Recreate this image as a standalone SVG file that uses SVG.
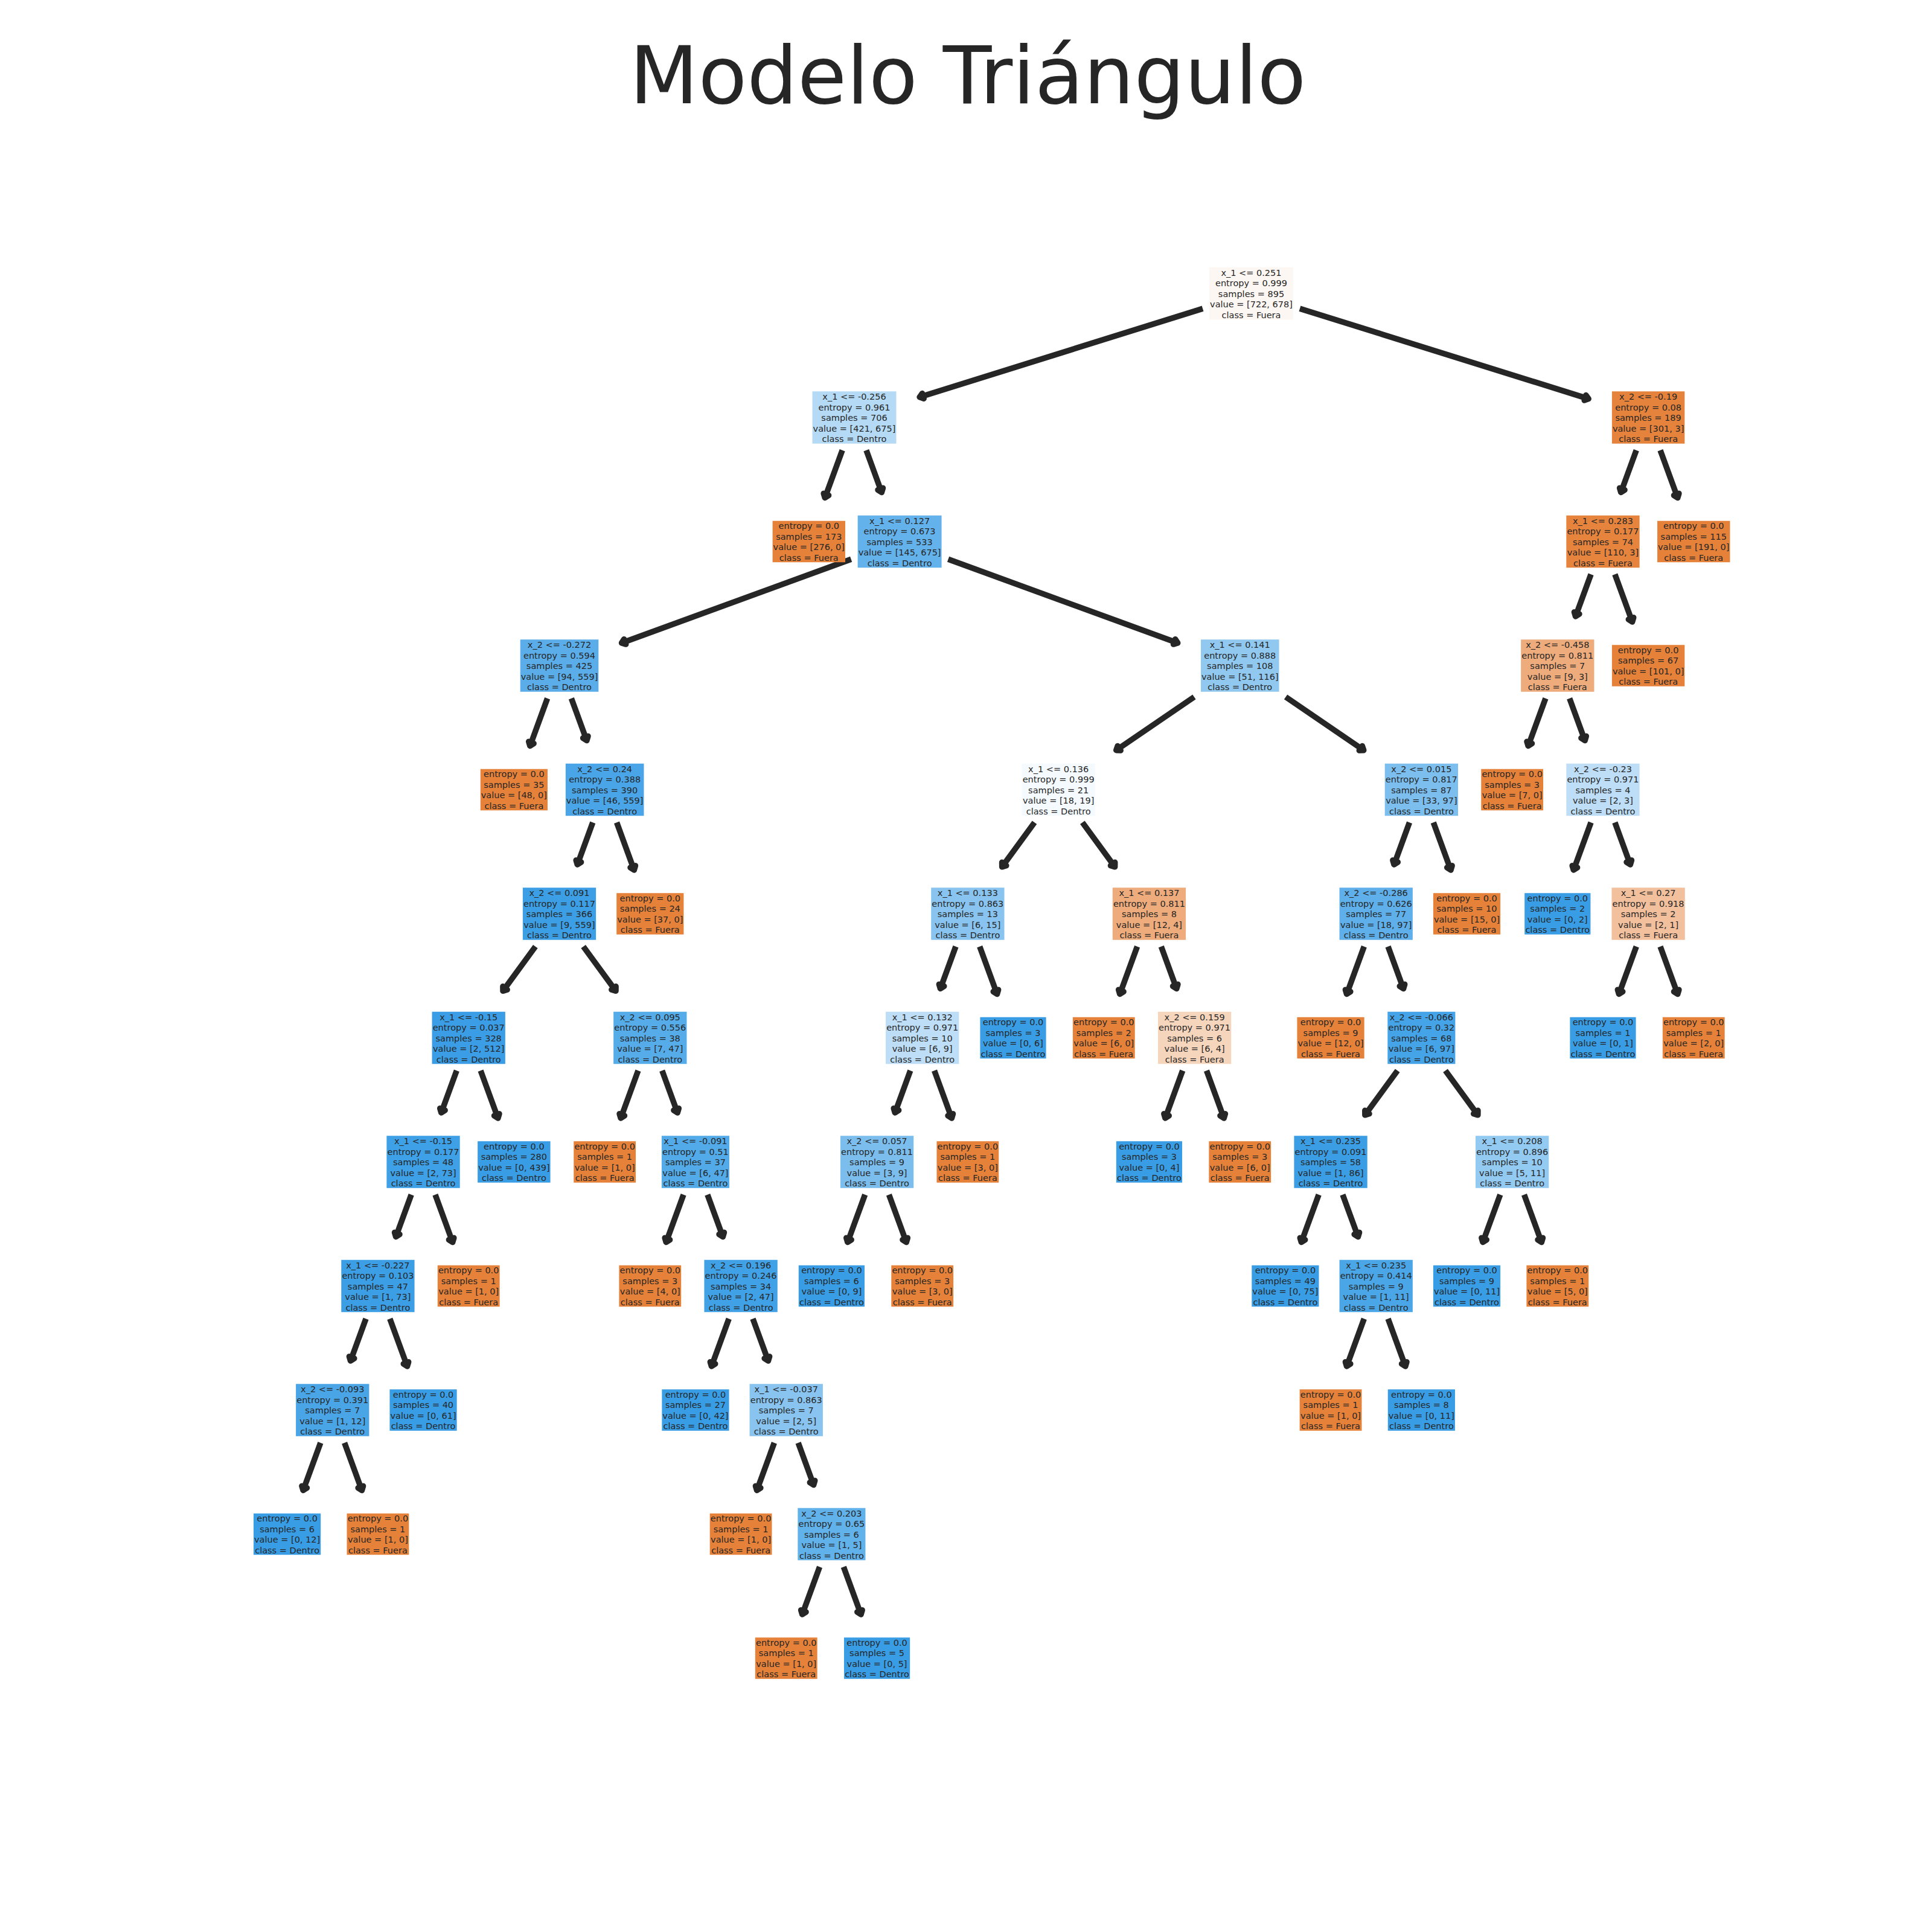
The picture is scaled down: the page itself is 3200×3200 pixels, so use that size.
<svg xmlns="http://www.w3.org/2000/svg" width="3200" height="3200" viewBox="0 0 3200 3200">
<defs>
<style>
.t{font-family:"DejaVu Sans","Noto Sans",Verdana,sans-serif;font-size:14.5px;fill:#262626;text-anchor:middle}
.title{font-family:"DejaVu Sans","Noto Sans",Verdana,sans-serif;font-size:132px;fill:#262626;text-anchor:middle}
.e{stroke:#262626;stroke-width:9.5;stroke-linecap:butt;fill:none;marker-end:url(#ah)}
.o{fill:#e58139}
.b{fill:#399de5}
</style>
<marker id="ah" markerUnits="userSpaceOnUse" orient="auto" refX="0" refY="0" markerWidth="40" markerHeight="40" viewBox="-20 -20 40 40" overflow="visible">
<path d="M-6,-4.5 L0,0 L-6,4.5" fill="none" stroke="#262626" stroke-width="9.5" stroke-linecap="round" stroke-linejoin="round"/>
</marker>
</defs>
<rect x="0" y="0" width="3200" height="3200" fill="#ffffff"/>
<text class="title" x="1603" y="171">Modelo Triángulo</text>
<g id="edges">
<line class="e" x1="1992.05" y1="511.14" x2="1523.13" y2="657.71"/>
<line class="e" x1="2152.95" y1="511.14" x2="2631.22" y2="660.6"/>
<line class="e" x1="1395.16" y1="745.75" x2="1366.31" y2="824.51"/>
<line class="e" x1="1434.84" y1="745.75" x2="1460.3" y2="815.51"/>
<line class="e" x1="1409.65" y1="926.33" x2="1029.55" y2="1064.93"/>
<line class="e" x1="1570.55" y1="926.33" x2="1950.7" y2="1064.93"/>
<line class="e" x1="906.66" y1="1156.75" x2="877.86" y2="1235.51"/>
<line class="e" x1="946.34" y1="1156.75" x2="971.85" y2="1226.51"/>
<line class="e" x1="981.81" y1="1362.25" x2="956.3" y2="1432.01"/>
<line class="e" x1="1021.49" y1="1362.25" x2="1050.29" y2="1441.01"/>
<line class="e" x1="886.82" y1="1567.75" x2="833.0" y2="1641.34"/>
<line class="e" x1="966.18" y1="1567.75" x2="1020.0" y2="1641.34"/>
<line class="e" x1="756.36" y1="1773.25" x2="730.85" y2="1843.01"/>
<line class="e" x1="796.04" y1="1773.25" x2="824.84" y2="1852.01"/>
<line class="e" x1="681.21" y1="1978.75" x2="655.7" y2="2048.51"/>
<line class="e" x1="720.89" y1="1978.75" x2="749.69" y2="2057.51"/>
<line class="e" x1="606.06" y1="2184.25" x2="580.55" y2="2254.01"/>
<line class="e" x1="645.74" y1="2184.25" x2="674.54" y2="2263.01"/>
<line class="e" x1="530.91" y1="2389.75" x2="502.11" y2="2468.51"/>
<line class="e" x1="570.59" y1="2389.75" x2="599.39" y2="2468.51"/>
<line class="e" x1="1056.96" y1="1773.25" x2="1028.16" y2="1852.01"/>
<line class="e" x1="1096.64" y1="1773.25" x2="1122.15" y2="1843.01"/>
<line class="e" x1="1132.11" y1="1978.75" x2="1103.31" y2="2057.51"/>
<line class="e" x1="1171.79" y1="1978.75" x2="1197.3" y2="2048.51"/>
<line class="e" x1="1207.26" y1="2184.25" x2="1178.46" y2="2263.01"/>
<line class="e" x1="1246.94" y1="2184.25" x2="1272.45" y2="2254.01"/>
<line class="e" x1="1282.41" y1="2389.75" x2="1253.61" y2="2468.51"/>
<line class="e" x1="1322.09" y1="2389.75" x2="1347.6" y2="2459.51"/>
<line class="e" x1="1357.56" y1="2595.25" x2="1328.76" y2="2674.01"/>
<line class="e" x1="1397.24" y1="2595.25" x2="1426.04" y2="2674.01"/>
<line class="e" x1="1977.95" y1="1154.32" x2="1848.74" y2="1242.65"/>
<line class="e" x1="2129.55" y1="1154.32" x2="2258.76" y2="1242.65"/>
<line class="e" x1="1713.47" y1="1362.25" x2="1659.65" y2="1435.84"/>
<line class="e" x1="1792.83" y1="1362.25" x2="1846.65" y2="1435.84"/>
<line class="e" x1="1583.01" y1="1567.75" x2="1557.5" y2="1637.51"/>
<line class="e" x1="1622.69" y1="1567.75" x2="1651.49" y2="1646.51"/>
<line class="e" x1="1507.86" y1="1773.25" x2="1482.35" y2="1843.01"/>
<line class="e" x1="1547.54" y1="1773.25" x2="1576.34" y2="1852.01"/>
<line class="e" x1="1432.71" y1="1978.75" x2="1403.91" y2="2057.51"/>
<line class="e" x1="1472.39" y1="1978.75" x2="1501.19" y2="2057.51"/>
<line class="e" x1="1883.61" y1="1567.75" x2="1854.81" y2="1646.51"/>
<line class="e" x1="1923.29" y1="1567.75" x2="1948.8" y2="1637.51"/>
<line class="e" x1="1958.76" y1="1773.25" x2="1929.96" y2="1852.01"/>
<line class="e" x1="1998.44" y1="1773.25" x2="2027.24" y2="1852.01"/>
<line class="e" x1="2334.51" y1="1362.25" x2="2309.0" y2="1432.01"/>
<line class="e" x1="2374.19" y1="1362.25" x2="2402.99" y2="1441.01"/>
<line class="e" x1="2259.36" y1="1567.75" x2="2230.56" y2="1646.51"/>
<line class="e" x1="2299.04" y1="1567.75" x2="2324.55" y2="1637.51"/>
<line class="e" x1="2314.67" y1="1773.25" x2="2260.85" y2="1846.84"/>
<line class="e" x1="2394.03" y1="1773.25" x2="2447.85" y2="1846.84"/>
<line class="e" x1="2184.21" y1="1978.75" x2="2155.41" y2="2057.51"/>
<line class="e" x1="2223.89" y1="1978.75" x2="2249.4" y2="2048.51"/>
<line class="e" x1="2259.36" y1="2184.25" x2="2230.56" y2="2263.01"/>
<line class="e" x1="2299.04" y1="2184.25" x2="2327.84" y2="2263.01"/>
<line class="e" x1="2484.81" y1="1978.75" x2="2456.01" y2="2057.51"/>
<line class="e" x1="2524.49" y1="1978.75" x2="2553.29" y2="2057.51"/>
<line class="e" x1="2710.26" y1="745.75" x2="2684.75" y2="815.51"/>
<line class="e" x1="2749.94" y1="745.75" x2="2778.74" y2="824.51"/>
<line class="e" x1="2635.11" y1="951.25" x2="2609.6" y2="1021.01"/>
<line class="e" x1="2674.79" y1="951.25" x2="2703.59" y2="1030.01"/>
<line class="e" x1="2559.96" y1="1156.75" x2="2531.16" y2="1235.51"/>
<line class="e" x1="2599.64" y1="1156.75" x2="2625.15" y2="1226.51"/>
<line class="e" x1="2635.11" y1="1362.25" x2="2606.31" y2="1441.01"/>
<line class="e" x1="2674.79" y1="1362.25" x2="2700.3" y2="1432.01"/>
<line class="e" x1="2710.26" y1="1567.75" x2="2681.46" y2="1646.51"/>
<line class="e" x1="2749.94" y1="1567.75" x2="2778.74" y2="1646.51"/>
</g>
<g id="n0"><rect x="2003.05" y="442.75" width="138.9" height="86.5" fill="#fdf7f3"/><text class="t" x="2072.5" y="456.5"><tspan x="2072.5">x_1 &lt;= 0.251</tspan><tspan x="2072.5" dy="17.5">entropy = 0.999</tspan><tspan x="2072.5" dy="17.5">samples = 895</tspan><tspan x="2072.5" dy="17.5">value = [722, 678]</tspan><tspan x="2072.5" dy="17.5">class = Fuera</tspan></text></g>
<g id="n1"><rect x="1345.55" y="648.25" width="138.9" height="86.5" fill="#b4daf5"/><text class="t" x="1415" y="662"><tspan x="1415">x_1 &lt;= -0.256</tspan><tspan x="1415" dy="17.5">entropy = 0.961</tspan><tspan x="1415" dy="17.5">samples = 706</tspan><tspan x="1415" dy="17.5">value = [421, 675]</tspan><tspan x="1415" dy="17.5">class = Dentro</tspan></text></g>
<g id="n2"><rect class="o" x="1279.6" y="862.75" width="120.4" height="68.5"/><text class="t" x="1339.8" y="876.25"><tspan x="1339.8">entropy = 0.0</tspan><tspan x="1339.8" dy="17.5">samples = 173</tspan><tspan x="1339.8" dy="17.5">value = [276, 0]</tspan><tspan x="1339.8" dy="17.5">class = Fuera</tspan></text></g>
<g id="n3"><rect x="1420.65" y="853.75" width="138.9" height="86.5" fill="#64b2eb"/><text class="t" x="1490.1" y="867.5"><tspan x="1490.1">x_1 &lt;= 0.127</tspan><tspan x="1490.1" dy="17.5">entropy = 0.673</tspan><tspan x="1490.1" dy="17.5">samples = 533</tspan><tspan x="1490.1" dy="17.5">value = [145, 675]</tspan><tspan x="1490.1" dy="17.5">class = Dentro</tspan></text></g>
<g id="n4"><rect x="861.7" y="1059.25" width="129.6" height="86.5" fill="#5aade9"/><text class="t" x="926.5" y="1073"><tspan x="926.5">x_2 &lt;= -0.272</tspan><tspan x="926.5" dy="17.5">entropy = 0.594</tspan><tspan x="926.5" dy="17.5">samples = 425</tspan><tspan x="926.5" dy="17.5">value = [94, 559]</tspan><tspan x="926.5" dy="17.5">class = Dentro</tspan></text></g>
<g id="n5"><rect class="o" x="795.75" y="1273.75" width="111.2" height="68.5"/><text class="t" x="851.35" y="1287.25"><tspan x="851.35">entropy = 0.0</tspan><tspan x="851.35" dy="17.5">samples = 35</tspan><tspan x="851.35" dy="17.5">value = [48, 0]</tspan><tspan x="851.35" dy="17.5">class = Fuera</tspan></text></g>
<g id="n6"><rect x="936.85" y="1264.75" width="129.6" height="86.5" fill="#49a5e7"/><text class="t" x="1001.65" y="1278.5"><tspan x="1001.65">x_2 &lt;= 0.24</tspan><tspan x="1001.65" dy="17.5">entropy = 0.388</tspan><tspan x="1001.65" dy="17.5">samples = 390</tspan><tspan x="1001.65" dy="17.5">value = [46, 559]</tspan><tspan x="1001.65" dy="17.5">class = Dentro</tspan></text></g>
<g id="n7"><rect x="865.85" y="1470.25" width="121.3" height="86.5" fill="#3c9fe5"/><text class="t" x="926.5" y="1484"><tspan x="926.5">x_2 &lt;= 0.091</tspan><tspan x="926.5" dy="17.5">entropy = 0.117</tspan><tspan x="926.5" dy="17.5">samples = 366</tspan><tspan x="926.5" dy="17.5">value = [9, 559]</tspan><tspan x="926.5" dy="17.5">class = Dentro</tspan></text></g>
<g id="n8"><rect x="715.55" y="1675.75" width="121.3" height="86.5" fill="#3a9de5"/><text class="t" x="776.2" y="1689.5"><tspan x="776.2">x_1 &lt;= -0.15</tspan><tspan x="776.2" dy="17.5">entropy = 0.037</tspan><tspan x="776.2" dy="17.5">samples = 328</tspan><tspan x="776.2" dy="17.5">value = [2, 512]</tspan><tspan x="776.2" dy="17.5">class = Dentro</tspan></text></g>
<g id="n9"><rect x="640.4" y="1881.25" width="121.3" height="86.5" fill="#3ea0e6"/><text class="t" x="701.05" y="1895"><tspan x="701.05">x_1 &lt;= -0.15</tspan><tspan x="701.05" dy="17.5">entropy = 0.177</tspan><tspan x="701.05" dy="17.5">samples = 48</tspan><tspan x="701.05" dy="17.5">value = [2, 73]</tspan><tspan x="701.05" dy="17.5">class = Dentro</tspan></text></g>
<g id="n10"><rect x="565.25" y="2086.75" width="121.3" height="86.5" fill="#3c9ee5"/><text class="t" x="625.9" y="2100.5"><tspan x="625.9">x_1 &lt;= -0.227</tspan><tspan x="625.9" dy="17.5">entropy = 0.103</tspan><tspan x="625.9" dy="17.5">samples = 47</tspan><tspan x="625.9" dy="17.5">value = [1, 73]</tspan><tspan x="625.9" dy="17.5">class = Dentro</tspan></text></g>
<g id="n11"><rect x="490.1" y="2292.25" width="121.3" height="86.5" fill="#4aa5e7"/><text class="t" x="550.75" y="2306"><tspan x="550.75">x_2 &lt;= -0.093</tspan><tspan x="550.75" dy="17.5">entropy = 0.391</tspan><tspan x="550.75" dy="17.5">samples = 7</tspan><tspan x="550.75" dy="17.5">value = [1, 12]</tspan><tspan x="550.75" dy="17.5">class = Dentro</tspan></text></g>
<g id="n12"><rect class="b" x="420" y="2506.75" width="111.2" height="68.5"/><text class="t" x="475.6" y="2520.25"><tspan x="475.6">entropy = 0.0</tspan><tspan x="475.6" dy="17.5">samples = 6</tspan><tspan x="475.6" dy="17.5">value = [0, 12]</tspan><tspan x="475.6" dy="17.5">class = Dentro</tspan></text></g>
<g id="n13"><rect class="o" x="574.5" y="2506.75" width="102.8" height="68.5"/><text class="t" x="625.9" y="2520.25"><tspan x="625.9">entropy = 0.0</tspan><tspan x="625.9" dy="17.5">samples = 1</tspan><tspan x="625.9" dy="17.5">value = [1, 0]</tspan><tspan x="625.9" dy="17.5">class = Fuera</tspan></text></g>
<g id="n14"><rect class="b" x="645.45" y="2301.25" width="111.2" height="68.5"/><text class="t" x="701.05" y="2314.75"><tspan x="701.05">entropy = 0.0</tspan><tspan x="701.05" dy="17.5">samples = 40</tspan><tspan x="701.05" dy="17.5">value = [0, 61]</tspan><tspan x="701.05" dy="17.5">class = Dentro</tspan></text></g>
<g id="n15"><rect class="o" x="724.8" y="2095.75" width="102.8" height="68.5"/><text class="t" x="776.2" y="2109.25"><tspan x="776.2">entropy = 0.0</tspan><tspan x="776.2" dy="17.5">samples = 1</tspan><tspan x="776.2" dy="17.5">value = [1, 0]</tspan><tspan x="776.2" dy="17.5">class = Fuera</tspan></text></g>
<g id="n16"><rect class="b" x="791.15" y="1890.25" width="120.4" height="68.5"/><text class="t" x="851.35" y="1903.75"><tspan x="851.35">entropy = 0.0</tspan><tspan x="851.35" dy="17.5">samples = 280</tspan><tspan x="851.35" dy="17.5">value = [0, 439]</tspan><tspan x="851.35" dy="17.5">class = Dentro</tspan></text></g>
<g id="n17"><rect x="1016.15" y="1675.75" width="121.3" height="86.5" fill="#56ace9"/><text class="t" x="1076.8" y="1689.5"><tspan x="1076.8">x_2 &lt;= 0.095</tspan><tspan x="1076.8" dy="17.5">entropy = 0.556</tspan><tspan x="1076.8" dy="17.5">samples = 38</tspan><tspan x="1076.8" dy="17.5">value = [7, 47]</tspan><tspan x="1076.8" dy="17.5">class = Dentro</tspan></text></g>
<g id="n18"><rect class="o" x="950.25" y="1890.25" width="102.8" height="68.5"/><text class="t" x="1001.65" y="1903.75"><tspan x="1001.65">entropy = 0.0</tspan><tspan x="1001.65" dy="17.5">samples = 1</tspan><tspan x="1001.65" dy="17.5">value = [1, 0]</tspan><tspan x="1001.65" dy="17.5">class = Fuera</tspan></text></g>
<g id="n19"><rect x="1095.9" y="1881.25" width="112.1" height="86.5" fill="#52aae8"/><text class="t" x="1151.95" y="1895"><tspan x="1151.95">x_1 &lt;= -0.091</tspan><tspan x="1151.95" dy="17.5">entropy = 0.51</tspan><tspan x="1151.95" dy="17.5">samples = 37</tspan><tspan x="1151.95" dy="17.5">value = [6, 47]</tspan><tspan x="1151.95" dy="17.5">class = Dentro</tspan></text></g>
<g id="n20"><rect class="o" x="1025.4" y="2095.75" width="102.8" height="68.5"/><text class="t" x="1076.8" y="2109.25"><tspan x="1076.8">entropy = 0.0</tspan><tspan x="1076.8" dy="17.5">samples = 3</tspan><tspan x="1076.8" dy="17.5">value = [4, 0]</tspan><tspan x="1076.8" dy="17.5">class = Fuera</tspan></text></g>
<g id="n21"><rect x="1166.45" y="2086.75" width="121.3" height="86.5" fill="#41a1e6"/><text class="t" x="1227.1" y="2100.5"><tspan x="1227.1">x_2 &lt;= 0.196</tspan><tspan x="1227.1" dy="17.5">entropy = 0.246</tspan><tspan x="1227.1" dy="17.5">samples = 34</tspan><tspan x="1227.1" dy="17.5">value = [2, 47]</tspan><tspan x="1227.1" dy="17.5">class = Dentro</tspan></text></g>
<g id="n22"><rect class="b" x="1096.35" y="2301.25" width="111.2" height="68.5"/><text class="t" x="1151.95" y="2314.75"><tspan x="1151.95">entropy = 0.0</tspan><tspan x="1151.95" dy="17.5">samples = 27</tspan><tspan x="1151.95" dy="17.5">value = [0, 42]</tspan><tspan x="1151.95" dy="17.5">class = Dentro</tspan></text></g>
<g id="n23"><rect x="1241.6" y="2292.25" width="121.3" height="86.5" fill="#88c4ef"/><text class="t" x="1302.25" y="2306"><tspan x="1302.25">x_1 &lt;= -0.037</tspan><tspan x="1302.25" dy="17.5">entropy = 0.863</tspan><tspan x="1302.25" dy="17.5">samples = 7</tspan><tspan x="1302.25" dy="17.5">value = [2, 5]</tspan><tspan x="1302.25" dy="17.5">class = Dentro</tspan></text></g>
<g id="n24"><rect class="o" x="1175.7" y="2506.75" width="102.8" height="68.5"/><text class="t" x="1227.1" y="2520.25"><tspan x="1227.1">entropy = 0.0</tspan><tspan x="1227.1" dy="17.5">samples = 1</tspan><tspan x="1227.1" dy="17.5">value = [1, 0]</tspan><tspan x="1227.1" dy="17.5">class = Fuera</tspan></text></g>
<g id="n25"><rect x="1321.35" y="2497.75" width="112.1" height="86.5" fill="#61b1ea"/><text class="t" x="1377.4" y="2511.5"><tspan x="1377.4">x_2 &lt;= 0.203</tspan><tspan x="1377.4" dy="17.5">entropy = 0.65</tspan><tspan x="1377.4" dy="17.5">samples = 6</tspan><tspan x="1377.4" dy="17.5">value = [1, 5]</tspan><tspan x="1377.4" dy="17.5">class = Dentro</tspan></text></g>
<g id="n26"><rect class="o" x="1250.85" y="2712.25" width="102.8" height="68.5"/><text class="t" x="1302.25" y="2725.75"><tspan x="1302.25">entropy = 0.0</tspan><tspan x="1302.25" dy="17.5">samples = 1</tspan><tspan x="1302.25" dy="17.5">value = [1, 0]</tspan><tspan x="1302.25" dy="17.5">class = Fuera</tspan></text></g>
<g id="n27"><rect class="b" x="1397.95" y="2712.25" width="109.2" height="68.5"/><text class="t" x="1452.55" y="2725.75"><tspan x="1452.55">entropy = 0.0</tspan><tspan x="1452.55" dy="17.5">samples = 5</tspan><tspan x="1452.55" dy="17.5">value = [0, 5]</tspan><tspan x="1452.55" dy="17.5">class = Dentro</tspan></text></g>
<g id="n28"><rect class="o" x="1021.2" y="1479.25" width="111.2" height="68.5"/><text class="t" x="1076.8" y="1492.75"><tspan x="1076.8">entropy = 0.0</tspan><tspan x="1076.8" dy="17.5">samples = 24</tspan><tspan x="1076.8" dy="17.5">value = [37, 0]</tspan><tspan x="1076.8" dy="17.5">class = Fuera</tspan></text></g>
<g id="n29"><rect x="1988.95" y="1059.25" width="129.6" height="86.5" fill="#90c8f0"/><text class="t" x="2053.75" y="1073"><tspan x="2053.75">x_1 &lt;= 0.141</tspan><tspan x="2053.75" dy="17.5">entropy = 0.888</tspan><tspan x="2053.75" dy="17.5">samples = 108</tspan><tspan x="2053.75" dy="17.5">value = [51, 116]</tspan><tspan x="2053.75" dy="17.5">class = Dentro</tspan></text></g>
<g id="n30"><rect x="1692.5" y="1264.75" width="121.3" height="86.5" fill="#f5fafe"/><text class="t" x="1753.15" y="1278.5"><tspan x="1753.15">x_1 &lt;= 0.136</tspan><tspan x="1753.15" dy="17.5">entropy = 0.999</tspan><tspan x="1753.15" dy="17.5">samples = 21</tspan><tspan x="1753.15" dy="17.5">value = [18, 19]</tspan><tspan x="1753.15" dy="17.5">class = Dentro</tspan></text></g>
<g id="n31"><rect x="1542.2" y="1470.25" width="121.3" height="86.5" fill="#88c4ef"/><text class="t" x="1602.85" y="1484"><tspan x="1602.85">x_1 &lt;= 0.133</tspan><tspan x="1602.85" dy="17.5">entropy = 0.863</tspan><tspan x="1602.85" dy="17.5">samples = 13</tspan><tspan x="1602.85" dy="17.5">value = [6, 15]</tspan><tspan x="1602.85" dy="17.5">class = Dentro</tspan></text></g>
<g id="n32"><rect x="1467.05" y="1675.75" width="121.3" height="86.5" fill="#bddef6"/><text class="t" x="1527.7" y="1689.5"><tspan x="1527.7">x_1 &lt;= 0.132</tspan><tspan x="1527.7" dy="17.5">entropy = 0.971</tspan><tspan x="1527.7" dy="17.5">samples = 10</tspan><tspan x="1527.7" dy="17.5">value = [6, 9]</tspan><tspan x="1527.7" dy="17.5">class = Dentro</tspan></text></g>
<g id="n33"><rect x="1391.9" y="1881.25" width="121.3" height="86.5" fill="#7bbeee"/><text class="t" x="1452.55" y="1895"><tspan x="1452.55">x_2 &lt;= 0.057</tspan><tspan x="1452.55" dy="17.5">entropy = 0.811</tspan><tspan x="1452.55" dy="17.5">samples = 9</tspan><tspan x="1452.55" dy="17.5">value = [3, 9]</tspan><tspan x="1452.55" dy="17.5">class = Dentro</tspan></text></g>
<g id="n34"><rect class="b" x="1322.8" y="2095.75" width="109.2" height="68.5"/><text class="t" x="1377.4" y="2109.25"><tspan x="1377.4">entropy = 0.0</tspan><tspan x="1377.4" dy="17.5">samples = 6</tspan><tspan x="1377.4" dy="17.5">value = [0, 9]</tspan><tspan x="1377.4" dy="17.5">class = Dentro</tspan></text></g>
<g id="n35"><rect class="o" x="1476.3" y="2095.75" width="102.8" height="68.5"/><text class="t" x="1527.7" y="2109.25"><tspan x="1527.7">entropy = 0.0</tspan><tspan x="1527.7" dy="17.5">samples = 3</tspan><tspan x="1527.7" dy="17.5">value = [3, 0]</tspan><tspan x="1527.7" dy="17.5">class = Fuera</tspan></text></g>
<g id="n36"><rect class="o" x="1551.45" y="1890.25" width="102.8" height="68.5"/><text class="t" x="1602.85" y="1903.75"><tspan x="1602.85">entropy = 0.0</tspan><tspan x="1602.85" dy="17.5">samples = 1</tspan><tspan x="1602.85" dy="17.5">value = [3, 0]</tspan><tspan x="1602.85" dy="17.5">class = Fuera</tspan></text></g>
<g id="n37"><rect class="b" x="1623.4" y="1684.75" width="109.2" height="68.5"/><text class="t" x="1678" y="1698.25"><tspan x="1678">entropy = 0.0</tspan><tspan x="1678" dy="17.5">samples = 3</tspan><tspan x="1678" dy="17.5">value = [0, 6]</tspan><tspan x="1678" dy="17.5">class = Dentro</tspan></text></g>
<g id="n38"><rect x="1842.8" y="1470.25" width="121.3" height="86.5" fill="#eeab7b"/><text class="t" x="1903.45" y="1484"><tspan x="1903.45">x_1 &lt;= 0.137</tspan><tspan x="1903.45" dy="17.5">entropy = 0.811</tspan><tspan x="1903.45" dy="17.5">samples = 8</tspan><tspan x="1903.45" dy="17.5">value = [12, 4]</tspan><tspan x="1903.45" dy="17.5">class = Fuera</tspan></text></g>
<g id="n39"><rect class="o" x="1776.9" y="1684.75" width="102.8" height="68.5"/><text class="t" x="1828.3" y="1698.25"><tspan x="1828.3">entropy = 0.0</tspan><tspan x="1828.3" dy="17.5">samples = 2</tspan><tspan x="1828.3" dy="17.5">value = [6, 0]</tspan><tspan x="1828.3" dy="17.5">class = Fuera</tspan></text></g>
<g id="n40"><rect x="1917.95" y="1675.75" width="121.3" height="86.5" fill="#f6d5bd"/><text class="t" x="1978.6" y="1689.5"><tspan x="1978.6">x_2 &lt;= 0.159</tspan><tspan x="1978.6" dy="17.5">entropy = 0.971</tspan><tspan x="1978.6" dy="17.5">samples = 6</tspan><tspan x="1978.6" dy="17.5">value = [6, 4]</tspan><tspan x="1978.6" dy="17.5">class = Fuera</tspan></text></g>
<g id="n41"><rect class="b" x="1848.85" y="1890.25" width="109.2" height="68.5"/><text class="t" x="1903.45" y="1903.75"><tspan x="1903.45">entropy = 0.0</tspan><tspan x="1903.45" dy="17.5">samples = 3</tspan><tspan x="1903.45" dy="17.5">value = [0, 4]</tspan><tspan x="1903.45" dy="17.5">class = Dentro</tspan></text></g>
<g id="n42"><rect class="o" x="2002.35" y="1890.25" width="102.8" height="68.5"/><text class="t" x="2053.75" y="1903.75"><tspan x="2053.75">entropy = 0.0</tspan><tspan x="2053.75" dy="17.5">samples = 3</tspan><tspan x="2053.75" dy="17.5">value = [6, 0]</tspan><tspan x="2053.75" dy="17.5">class = Fuera</tspan></text></g>
<g id="n43"><rect x="2293.7" y="1264.75" width="121.3" height="86.5" fill="#7cbeee"/><text class="t" x="2354.35" y="1278.5"><tspan x="2354.35">x_2 &lt;= 0.015</tspan><tspan x="2354.35" dy="17.5">entropy = 0.817</tspan><tspan x="2354.35" dy="17.5">samples = 87</tspan><tspan x="2354.35" dy="17.5">value = [33, 97]</tspan><tspan x="2354.35" dy="17.5">class = Dentro</tspan></text></g>
<g id="n44"><rect x="2218.55" y="1470.25" width="121.3" height="86.5" fill="#5eafea"/><text class="t" x="2279.2" y="1484"><tspan x="2279.2">x_2 &lt;= -0.286</tspan><tspan x="2279.2" dy="17.5">entropy = 0.626</tspan><tspan x="2279.2" dy="17.5">samples = 77</tspan><tspan x="2279.2" dy="17.5">value = [18, 97]</tspan><tspan x="2279.2" dy="17.5">class = Dentro</tspan></text></g>
<g id="n45"><rect class="o" x="2148.45" y="1684.75" width="111.2" height="68.5"/><text class="t" x="2204.05" y="1698.25"><tspan x="2204.05">entropy = 0.0</tspan><tspan x="2204.05" dy="17.5">samples = 9</tspan><tspan x="2204.05" dy="17.5">value = [12, 0]</tspan><tspan x="2204.05" dy="17.5">class = Fuera</tspan></text></g>
<g id="n46"><rect x="2298.3" y="1675.75" width="112.1" height="86.5" fill="#45a3e7"/><text class="t" x="2354.35" y="1689.5"><tspan x="2354.35">x_2 &lt;= -0.066</tspan><tspan x="2354.35" dy="17.5">entropy = 0.32</tspan><tspan x="2354.35" dy="17.5">samples = 68</tspan><tspan x="2354.35" dy="17.5">value = [6, 97]</tspan><tspan x="2354.35" dy="17.5">class = Dentro</tspan></text></g>
<g id="n47"><rect x="2143.4" y="1881.25" width="121.3" height="86.5" fill="#3b9ee5"/><text class="t" x="2204.05" y="1895"><tspan x="2204.05">x_1 &lt;= 0.235</tspan><tspan x="2204.05" dy="17.5">entropy = 0.091</tspan><tspan x="2204.05" dy="17.5">samples = 58</tspan><tspan x="2204.05" dy="17.5">value = [1, 86]</tspan><tspan x="2204.05" dy="17.5">class = Dentro</tspan></text></g>
<g id="n48"><rect class="b" x="2073.3" y="2095.75" width="111.2" height="68.5"/><text class="t" x="2128.9" y="2109.25"><tspan x="2128.9">entropy = 0.0</tspan><tspan x="2128.9" dy="17.5">samples = 49</tspan><tspan x="2128.9" dy="17.5">value = [0, 75]</tspan><tspan x="2128.9" dy="17.5">class = Dentro</tspan></text></g>
<g id="n49"><rect x="2218.55" y="2086.75" width="121.3" height="86.5" fill="#4ba6e7"/><text class="t" x="2279.2" y="2100.5"><tspan x="2279.2">x_1 &lt;= 0.235</tspan><tspan x="2279.2" dy="17.5">entropy = 0.414</tspan><tspan x="2279.2" dy="17.5">samples = 9</tspan><tspan x="2279.2" dy="17.5">value = [1, 11]</tspan><tspan x="2279.2" dy="17.5">class = Dentro</tspan></text></g>
<g id="n50"><rect class="o" x="2152.65" y="2301.25" width="102.8" height="68.5"/><text class="t" x="2204.05" y="2314.75"><tspan x="2204.05">entropy = 0.0</tspan><tspan x="2204.05" dy="17.5">samples = 1</tspan><tspan x="2204.05" dy="17.5">value = [1, 0]</tspan><tspan x="2204.05" dy="17.5">class = Fuera</tspan></text></g>
<g id="n51"><rect class="b" x="2298.75" y="2301.25" width="111.2" height="68.5"/><text class="t" x="2354.35" y="2314.75"><tspan x="2354.35">entropy = 0.0</tspan><tspan x="2354.35" dy="17.5">samples = 8</tspan><tspan x="2354.35" dy="17.5">value = [0, 11]</tspan><tspan x="2354.35" dy="17.5">class = Dentro</tspan></text></g>
<g id="n52"><rect x="2444" y="1881.25" width="121.3" height="86.5" fill="#93caf1"/><text class="t" x="2504.65" y="1895"><tspan x="2504.65">x_1 &lt;= 0.208</tspan><tspan x="2504.65" dy="17.5">entropy = 0.896</tspan><tspan x="2504.65" dy="17.5">samples = 10</tspan><tspan x="2504.65" dy="17.5">value = [5, 11]</tspan><tspan x="2504.65" dy="17.5">class = Dentro</tspan></text></g>
<g id="n53"><rect class="b" x="2373.9" y="2095.75" width="111.2" height="68.5"/><text class="t" x="2429.5" y="2109.25"><tspan x="2429.5">entropy = 0.0</tspan><tspan x="2429.5" dy="17.5">samples = 9</tspan><tspan x="2429.5" dy="17.5">value = [0, 11]</tspan><tspan x="2429.5" dy="17.5">class = Dentro</tspan></text></g>
<g id="n54"><rect class="o" x="2528.4" y="2095.75" width="102.8" height="68.5"/><text class="t" x="2579.8" y="2109.25"><tspan x="2579.8">entropy = 0.0</tspan><tspan x="2579.8" dy="17.5">samples = 1</tspan><tspan x="2579.8" dy="17.5">value = [5, 0]</tspan><tspan x="2579.8" dy="17.5">class = Fuera</tspan></text></g>
<g id="n55"><rect class="o" x="2373.9" y="1479.25" width="111.2" height="68.5"/><text class="t" x="2429.5" y="1492.75"><tspan x="2429.5">entropy = 0.0</tspan><tspan x="2429.5" dy="17.5">samples = 10</tspan><tspan x="2429.5" dy="17.5">value = [15, 0]</tspan><tspan x="2429.5" dy="17.5">class = Fuera</tspan></text></g>
<g id="n56"><rect x="2669.9" y="648.25" width="120.4" height="86.5" fill="#e5823b"/><text class="t" x="2730.1" y="662"><tspan x="2730.1">x_2 &lt;= -0.19</tspan><tspan x="2730.1" dy="17.5">entropy = 0.08</tspan><tspan x="2730.1" dy="17.5">samples = 189</tspan><tspan x="2730.1" dy="17.5">value = [301, 3]</tspan><tspan x="2730.1" dy="17.5">class = Fuera</tspan></text></g>
<g id="n57"><rect x="2594.3" y="853.75" width="121.3" height="86.5" fill="#e6843e"/><text class="t" x="2654.95" y="867.5"><tspan x="2654.95">x_1 &lt;= 0.283</tspan><tspan x="2654.95" dy="17.5">entropy = 0.177</tspan><tspan x="2654.95" dy="17.5">samples = 74</tspan><tspan x="2654.95" dy="17.5">value = [110, 3]</tspan><tspan x="2654.95" dy="17.5">class = Fuera</tspan></text></g>
<g id="n58"><rect x="2519.15" y="1059.25" width="121.3" height="86.5" fill="#eeab7b"/><text class="t" x="2579.8" y="1073"><tspan x="2579.8">x_2 &lt;= -0.458</tspan><tspan x="2579.8" dy="17.5">entropy = 0.811</tspan><tspan x="2579.8" dy="17.5">samples = 7</tspan><tspan x="2579.8" dy="17.5">value = [9, 3]</tspan><tspan x="2579.8" dy="17.5">class = Fuera</tspan></text></g>
<g id="n59"><rect class="o" x="2453.25" y="1273.75" width="102.8" height="68.5"/><text class="t" x="2504.65" y="1287.25"><tspan x="2504.65">entropy = 0.0</tspan><tspan x="2504.65" dy="17.5">samples = 3</tspan><tspan x="2504.65" dy="17.5">value = [7, 0]</tspan><tspan x="2504.65" dy="17.5">class = Fuera</tspan></text></g>
<g id="n60"><rect x="2594.3" y="1264.75" width="121.3" height="86.5" fill="#bddef6"/><text class="t" x="2654.95" y="1278.5"><tspan x="2654.95">x_2 &lt;= -0.23</tspan><tspan x="2654.95" dy="17.5">entropy = 0.971</tspan><tspan x="2654.95" dy="17.5">samples = 4</tspan><tspan x="2654.95" dy="17.5">value = [2, 3]</tspan><tspan x="2654.95" dy="17.5">class = Dentro</tspan></text></g>
<g id="n61"><rect class="b" x="2525.2" y="1479.25" width="109.2" height="68.5"/><text class="t" x="2579.8" y="1492.75"><tspan x="2579.8">entropy = 0.0</tspan><tspan x="2579.8" dy="17.5">samples = 2</tspan><tspan x="2579.8" dy="17.5">value = [0, 2]</tspan><tspan x="2579.8" dy="17.5">class = Dentro</tspan></text></g>
<g id="n62"><rect x="2669.45" y="1470.25" width="121.3" height="86.5" fill="#f2c09c"/><text class="t" x="2730.1" y="1484"><tspan x="2730.1">x_1 &lt;= 0.27</tspan><tspan x="2730.1" dy="17.5">entropy = 0.918</tspan><tspan x="2730.1" dy="17.5">samples = 2</tspan><tspan x="2730.1" dy="17.5">value = [2, 1]</tspan><tspan x="2730.1" dy="17.5">class = Fuera</tspan></text></g>
<g id="n63"><rect class="b" x="2600.35" y="1684.75" width="109.2" height="68.5"/><text class="t" x="2654.95" y="1698.25"><tspan x="2654.95">entropy = 0.0</tspan><tspan x="2654.95" dy="17.5">samples = 1</tspan><tspan x="2654.95" dy="17.5">value = [0, 1]</tspan><tspan x="2654.95" dy="17.5">class = Dentro</tspan></text></g>
<g id="n64"><rect class="o" x="2753.85" y="1684.75" width="102.8" height="68.5"/><text class="t" x="2805.25" y="1698.25"><tspan x="2805.25">entropy = 0.0</tspan><tspan x="2805.25" dy="17.5">samples = 1</tspan><tspan x="2805.25" dy="17.5">value = [2, 0]</tspan><tspan x="2805.25" dy="17.5">class = Fuera</tspan></text></g>
<g id="n65"><rect class="o" x="2669.9" y="1068.25" width="120.4" height="68.5"/><text class="t" x="2730.1" y="1081.75"><tspan x="2730.1">entropy = 0.0</tspan><tspan x="2730.1" dy="17.5">samples = 67</tspan><tspan x="2730.1" dy="17.5">value = [101, 0]</tspan><tspan x="2730.1" dy="17.5">class = Fuera</tspan></text></g>
<g id="n66"><rect class="o" x="2745.05" y="862.75" width="120.4" height="68.5"/><text class="t" x="2805.25" y="876.25"><tspan x="2805.25">entropy = 0.0</tspan><tspan x="2805.25" dy="17.5">samples = 115</tspan><tspan x="2805.25" dy="17.5">value = [191, 0]</tspan><tspan x="2805.25" dy="17.5">class = Fuera</tspan></text></g>
</svg>
